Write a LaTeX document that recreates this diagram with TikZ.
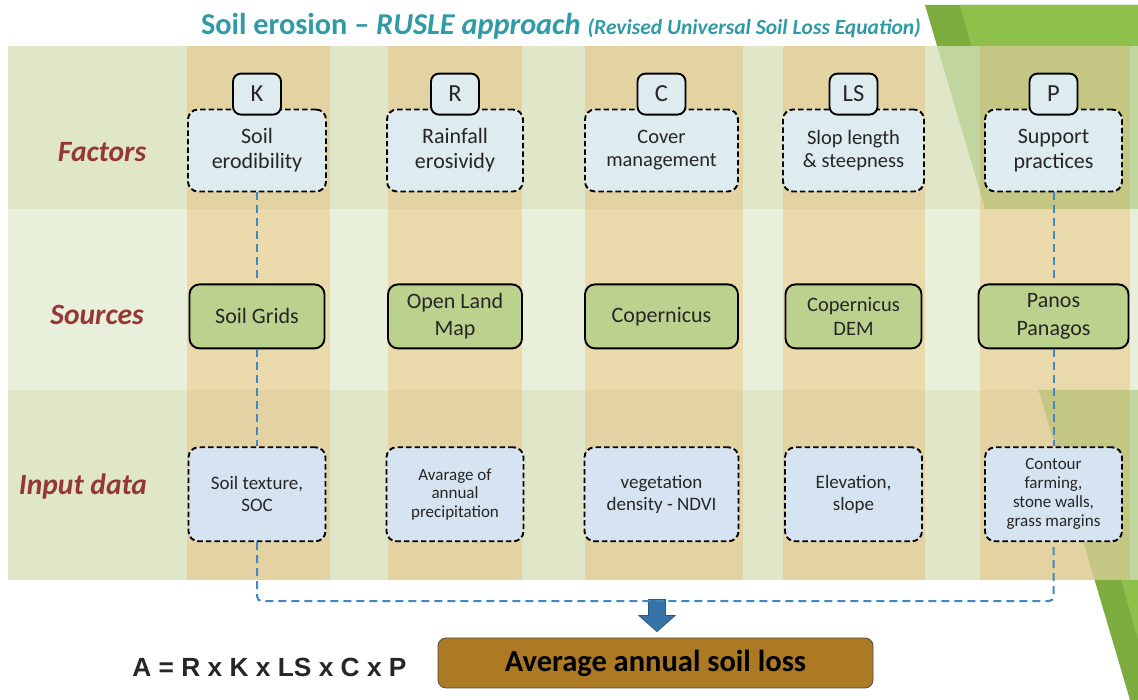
\documentclass[tikz,border=0pt]{standalone}
\usepackage{fontspec}
\setmainfont{Carlito}
\newfontfamily\formulafont{Liberation Sans}
\usetikzlibrary{shapes,arrows,positioning,calc}

\definecolor{rowgreen}{RGB}{223,231,200}
\definecolor{rowlight}{RGB}{232,239,218}
\definecolor{stripetan}{RGB}{228,211,162}
\definecolor{stripelight}{RGB}{233,217,171}
\definecolor{leafdark}{RGB}{124,172,62}
\definecolor{leaf}{RGB}{142,193,76}
\definecolor{factorfill}{RGB}{222,235,239}
\definecolor{inputfill}{RGB}{214,228,242}
\definecolor{sourcefill}{RGB}{189,209,142}
\definecolor{linkblue}{RGB}{64,135,198}
\definecolor{titleteal}{RGB}{47,155,166}
\definecolor{rowred}{RGB}{149,55,53}
\definecolor{lossbrown}{RGB}{173,122,36}

\begin{document}
\begin{tikzpicture}[
    x=1pt, y=1pt,
    factor/.style={draw, dash pattern=on 5.5pt off 3pt, line width=1.9pt, rounded corners=10pt, fill=factorfill, minimum height=82pt, align=center, text=black!85, font=\fontsize{22}{25}\selectfont},
    letter/.style={draw, line width=1.9pt, rounded corners=8pt, fill=factorfill, minimum width=48pt, minimum height=41pt, text=black!85, font=\fontsize{24.5}{28}\selectfont},
    source/.style={draw, line width=1.9pt, rounded corners=10pt, fill=sourcefill, minimum height=64pt, align=center, text=black!85, font=\fontsize{22}{27}\selectfont},
    input/.style={factor, fill=inputfill, minimum height=94pt, font=\fontsize{19}{22}\selectfont},
    rowlabel/.style={font=\fontsize{29.5}{32}\selectfont\bfseries\itshape, text=rowred},
    link/.style={draw=linkblue, line width=2pt, dash pattern=on 8pt off 5pt},
    drop/.style={draw=linkblue!65!black, fill=linkblue!85!black, line width=0.8pt, line join=miter}
]
\useasboundingbox (0,0) rectangle (1138,700);

% Green leaves at the right edge
\fill[leafdark] (925,695) -- (1138,695) -- (1138,0) -- (1130,0) -- cycle;
\fill[leaf] (960,695) -- (1138,695) -- (1138,60) -- cycle;

% Table: rows and column stripes
\fill[rowgreen] (8,120) rectangle (1138,654);
\foreach \a/\b in {187/330, 388/522, 585/743, 783/925, 980/1130}
    \fill[stripetan] (\a,120) rectangle (\b,654);
\fill[rowlight] (8,310) rectangle (1138,491);
\foreach \a/\b in {187/330, 388/522, 585/743, 783/925, 980/1130}
    \fill[stripelight] (\a,310) rectangle (\b,491);
\begin{scope}
    \clip (8,491) rectangle (1138,654) (8,120) rectangle (1138,310);
    \fill[leafdark, opacity=0.3] (925,695) -- (1138,695) -- (1138,0) -- (1130,0) -- cycle;
\end{scope}

% Title
\node[text=titleteal] (title) at (561,674)
    {\fontsize{30.3}{33}\selectfont\bfseries Soil erosion -- \itshape RUSLE approach
     \fontsize{21.5}{24}\selectfont (Revised Universal Soil Loss Equation)};

% Row labels
\node[rowlabel] (lbl_factors) at (102,548) {Factors};
\node[rowlabel] (lbl_sources) at (97,385) {Sources};
\node[rowlabel] (lbl_input) at (83,214) {Input data};

% Factors
\node[factor, minimum width=138pt] (factor_k) at (257,549.5) {Soil\\erodibility};
\node[factor, minimum width=136pt] (factor_r) at (455,549.5) {Rainfall\\erosividy};
\node[factor, minimum width=153pt, font=\fontsize{20.5}{23}\selectfont] (factor_c) at (661.5,549.5) {Cover\\management};
\node[factor, minimum width=141pt, font=\fontsize{20.5}{23}\selectfont] (factor_ls) at (853.5,549.5) {Slop length\\\& steepness};
\node[factor, minimum width=137pt] (factor_p) at (1053.5,549.5) {Support\\practices};

\node[letter, above=-7pt of factor_k] (letter_k) {K};
\node[letter, above=-7pt of factor_r] (letter_r) {R};
\node[letter, above=-7pt of factor_c] (letter_c) {C};
\node[letter, above=-7pt of factor_ls] (letter_ls) {LS};
\node[letter, above=-7pt of factor_p] (letter_p) {P};

% Sources
\node[source, minimum width=135pt, below=91pt of factor_k] (source_k) {Soil Grids};
\node[source, minimum width=134pt, below=91pt of factor_r] (source_r) {Open Land\\Map};
\node[source, minimum width=153pt, below=91pt of factor_c] (source_c) {Copernicus};
\node[source, minimum width=136pt, below=91pt of factor_ls, font=\fontsize{20.5}{24}\selectfont] (source_ls) {Copernicus\\DEM};
\node[source, minimum width=150pt, below=91pt of factor_p, font=\fontsize{22}{27.5}\selectfont] (source_p) {Panos\\Panagos};

% Input data
\node[input, minimum width=137pt, below=97pt of source_k] (input_k) {Soil texture,\\SOC};
\node[input, minimum width=137pt, below=97pt of source_r, font=\fontsize{17}{18.5}\selectfont] (input_r) {Avarage of\\annual\\precipitation};
\node[input, minimum width=154pt, below=97pt of source_c] (input_c) {vegetation\\density - NDVI};
\node[input, minimum width=137pt, below=97pt of source_ls] (input_ls) {Elevation,\\slope};
\node[input, minimum width=137pt, below=97pt of source_p, font=\fontsize{17}{19}\selectfont] (input_p) {Contour\\farming,\\stone walls,\\grass margins};

% Result
\node[draw=black!70, line width=0.8pt, rounded corners=8pt, fill=lossbrown, minimum width=435pt, minimum height=50pt, font=\fontsize{30.5}{33}\selectfont\bfseries] (loss) at (655.5,37) {Average annual soil loss};
\node[font=\formulafont\fontsize{26.3}{30}\selectfont\bfseries, text=black!85] (formula) at (269.5,33) {A = R x K x LS x C x P};
\coordinate[above=6pt of loss, xshift=1.5pt] (drop_tip);
\filldraw[drop] (drop_tip) -- ++(-18,16) -- ++(9.5,0) -- ++(0,16) -- ++(17,0) -- ++(0,-16) -- ++(9.5,0) -- cycle;

% Links
\draw[link] (factor_k) -- (source_k);
\draw[link] (source_k) -- (input_k);
\draw[link] (factor_p) -- (source_p);
\draw[link] (source_p) -- (input_p);
\draw[link, rounded corners=5pt] (input_k.south) -- ++(0,-59) -| (input_p.south);

\end{tikzpicture}
\end{document}
